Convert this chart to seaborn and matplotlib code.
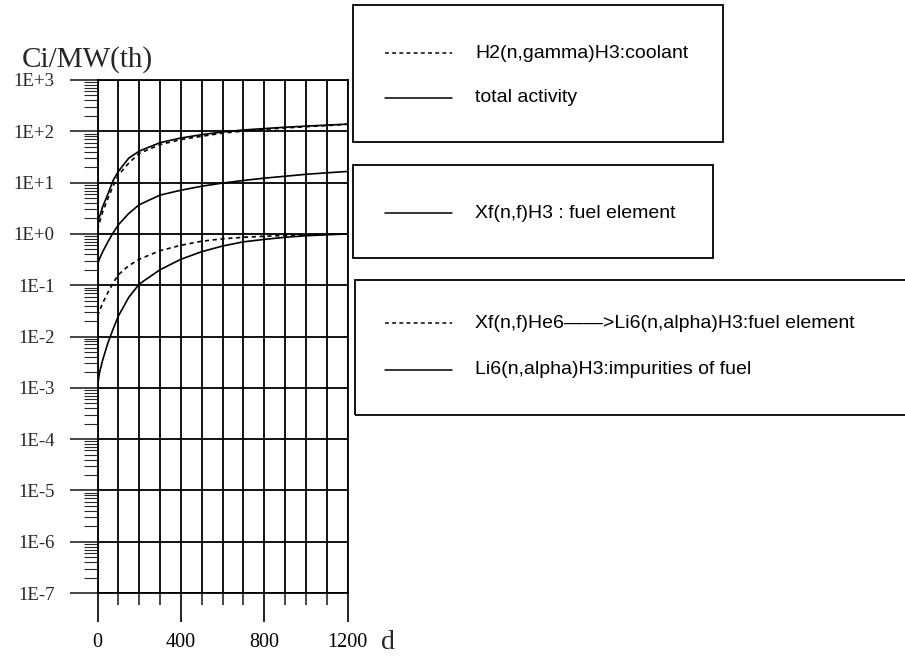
import numpy as np
import pandas as pd
import matplotlib
matplotlib.use("Agg")
import matplotlib.pyplot as plt
import seaborn as sns
from matplotlib.ticker import LogLocator, FixedLocator, MultipleLocator, NullFormatter
from matplotlib.patches import Rectangle
from matplotlib.lines import Line2D

# ---------------- data ----------------
days = [0, 10, 25, 50, 75, 100, 150, 200, 300, 400, 500, 600, 700, 800, 900, 1000, 1100, 1200]
coolant = [1.2, 1.7, 2.7, 4.9, 8.6, 14, 24, 37, 55, 69, 80, 92, 101, 109, 116, 123, 129, 137]
total = [1.6, 2.2, 3.4, 6.0, 11, 16.5, 30, 41, 60, 74, 86, 97, 106, 113, 120, 126, 132, 138]
fuel_h3 = [0.25, 0.33, 0.45, 0.7, 1.05, 1.5, 2.5, 3.7, 5.7, 7.1, 8.5, 9.8, 11, 12.2, 13.3, 14.5, 15.5, 16.5]
he6_li6 = [0.025, 0.032, 0.045, 0.072, 0.11, 0.16, 0.24, 0.32, 0.47, 0.6, 0.72, 0.8, 0.86, 0.9, 0.93, 0.96, 0.98, 1.0]
li6_imp = [0.0011, 0.002, 0.0035, 0.0075, 0.014, 0.025, 0.058, 0.105, 0.2, 0.32, 0.45, 0.58, 0.7, 0.78, 0.86, 0.92, 0.96, 1.0]

series_labels = [
    "H2(n,gamma)H3:coolant",
    "total activity",
    "Xf(n,f)H3 : fuel element",
    "Xf(n,f)He6\u2014\u2014>Li6(n,alpha)H3:fuel element",
    "Li6(n,alpha)H3:impurities of fuel",
]
series_values = [coolant, total, fuel_h3, he6_li6, li6_imp]
series_dashed = [True, False, False, True, False]
legend_groups = [[0, 1], [2], [3, 4]]

x_ticks = [0, 400, 800, 1200]
x_tick_labels = ["0", "400", "800", "1200"]
y_ticks = [1e3, 1e2, 1e1, 1e0, 1e-1, 1e-2, 1e-3, 1e-4, 1e-5, 1e-6, 1e-7]
y_tick_labels = ["1E+3", "1E+2", "1E+1", "1E+0", "1E-1", "1E-2", "1E-3",
                 "1E-4", "1E-5", "1E-6", "1E-7"]
y_title = "Ci/MW(th)"
x_title = "d"

# ---------------- style ----------------
sns.set_style("white")
plt.rcParams["font.family"] = ["Liberation Serif", "DejaVu Serif"]
plt.rcParams["axes.edgecolor"] = "black"
plt.rcParams["axes.linewidth"] = 1.3

W, H = 905, 660
fig = plt.figure(figsize=(W / 100, H / 100), dpi=100)
fig.patch.set_facecolor("white")

ax_l, ax_r, ax_t, ax_b = 97.5, 347.5, 80, 593
ax = fig.add_axes([ax_l / W, 1 - ax_b / H, (ax_r - ax_l) / W, (ax_b - ax_t) / H])

df = pd.DataFrame({
    "d": np.tile(days, len(series_labels)),
    "activity": np.concatenate(series_values),
    "series": np.repeat(series_labels, len(days)),
})
dash_map = {lab: ((2.5, 2.2) if dsh else "") for lab, dsh in zip(series_labels, series_dashed)}
sns.lineplot(data=df, x="d", y="activity", hue="series", style="series",
             palette={lab: "black" for lab in series_labels}, dashes=dash_map,
             linewidth=1.2, legend=False, estimator=None, ax=ax)

ax.set_yscale("log")
ax.set_xlim(0, 1200)
ax.set_ylim(1e-7, 1e3)

ax.xaxis.set_major_locator(FixedLocator(x_ticks))
ax.set_xticklabels(x_tick_labels)
ax.xaxis.set_minor_locator(MultipleLocator(100))
ax.set_yticks(y_ticks)
ax.set_yticklabels(y_tick_labels)
ax.yaxis.set_minor_locator(LogLocator(base=10, subs=np.arange(2, 10), numticks=200))
ax.yaxis.set_minor_formatter(NullFormatter())

ax.grid(False)
ax.grid(True, which="major", axis="y", color="black", linewidth=1.3)
ax.grid(True, which="both", axis="x", color="black", linewidth=1.3)

ax.tick_params(axis="x", which="major", direction="out", length=21, width=1.2,
               pad=8, labelsize=14.5, bottom=True, colors="black")
ax.tick_params(axis="x", which="minor", direction="out", length=8.6, width=1.2, bottom=True)
ax.tick_params(axis="y", which="major", direction="out", length=20, width=1.2,
               pad=11, labelsize=13.5, left=True)
ax.tick_params(axis="y", which="minor", direction="out", length=10, width=0.8, left=True)
for sp in ax.spines.values():
    sp.set_visible(True)
    sp.set_color("black")
    sp.set_linewidth(1.3)

ax.set_xlabel(x_title, fontsize=20, ha="center", va="baseline")
ax.xaxis.set_label_coords((388 - ax_l) / (ax_r - ax_l), -(649 - ax_b) / (ax_b - ax_t))
ax.set_ylabel(y_title, fontsize=21, rotation=0, ha="left", va="baseline")
ax.yaxis.set_label_coords((22 - ax_l) / (ax_r - ax_l), 1 + (ax_t - 67) / (ax_b - ax_t))

# ---------------- legend boxes ----------------
def fx(px):
    return px / W

def fy(py):
    return 1 - py / H

boxes = [(353, 5, 723, 142), (353, 165, 713, 258), (355, 280, 912, 415)]
entry_y = [[53, 98], [213], [323, 370]]
for (x0, y0, x1, y1), grp, ys in zip(boxes, legend_groups, entry_y):
    fig.patches.append(Rectangle((fx(x0), fy(y1)), fx(x1) - fx(x0), fy(y0) - fy(y1),
                                 transform=fig.transFigure, fill=False,
                                 edgecolor="black", linewidth=1.3, clip_on=False))
    for idx, yy in zip(grp, ys):
        ls = (0, (2.5, 2.2)) if series_dashed[idx] else "-"
        fig.lines.append(Line2D([fx(385), fx(452)], [fy(yy), fy(yy)],
                                transform=fig.transFigure, color="black",
                                linewidth=1.1, linestyle=ls))
        fig.text(fx(475), fy(yy), series_labels[idx], family=["Liberation Sans", "DejaVu Sans"],
                 fontsize=14, va="center", ha="left", color="black")

fig.savefig("out.png", dpi=100, facecolor="white")
